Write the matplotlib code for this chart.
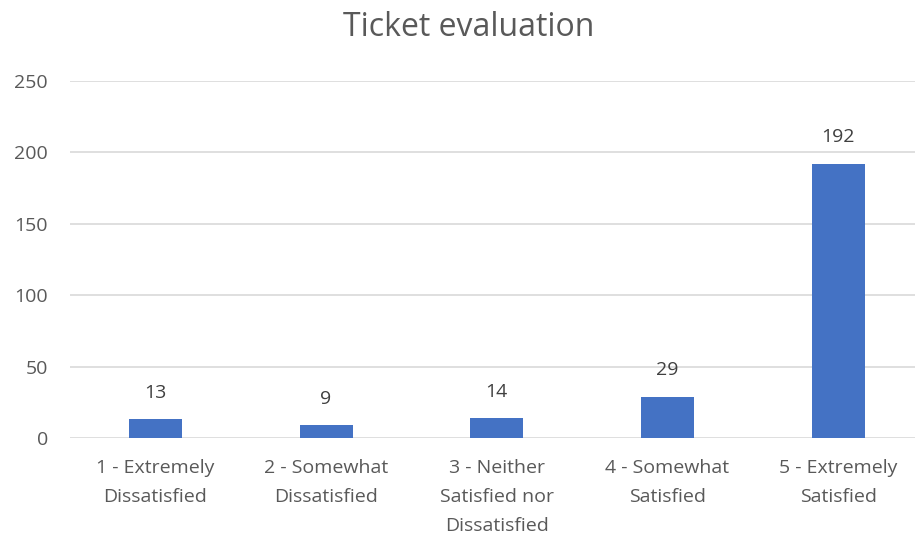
import matplotlib.pyplot as plt
import numpy as np

categories = ['1 - Extremely\nDissatisfied', '2 - Somewhat\nDissatisfied',
              '3 - Neither\nSatisfied nor\nDissatisfied', '4 - Somewhat\nSatisfied',
              '5 - Extremely\nSatisfied']
counts = [13, 9, 14, 29, 192]
y_ticks = [0, 50, 100, 150, 200, 250]

plt.rcParams['font.family'] = ['Open Sans', 'DejaVu Sans']
text_color = '#595959'

fig = plt.figure(figsize=(9.15, 5.37), dpi=100)
ax = fig.add_axes([70 / 915, 1 - 438 / 537, 845 / 915, (438 - 81) / 537])

x = np.arange(len(categories))
ax.bar(x, counts, width=0.31, color='#4472C4', zorder=3)

# value labels above the bars
for xi, v in zip(x, counts):
    ax.annotate(str(v), (xi, v), xytext=(0, 19), textcoords='offset points',
                ha='center', va='center', fontsize=14, color='#404040')

ax.set_xlim(-0.5, 4.45)
ax.set_ylim(0, 250)
ax.set_yticks(y_ticks)
ax.set_xticks(x)
ax.set_xticklabels(categories, fontsize=14, color=text_color, linespacing=1.8)
ax.tick_params(axis='y', labelsize=14, labelcolor=text_color, length=0, pad=16)
ax.tick_params(axis='x', length=0, pad=15)
ax.grid(axis='y', color='#d9d9d9', linewidth=1.2, zorder=0)
for s in ax.spines.values():
    s.set_visible(False)

fig.text(0.512, 1 - 28 / 537, 'Ticket evaluation', ha='center', va='center',
         fontsize=23, color=text_color)

fig.savefig('out.png', dpi=100)
